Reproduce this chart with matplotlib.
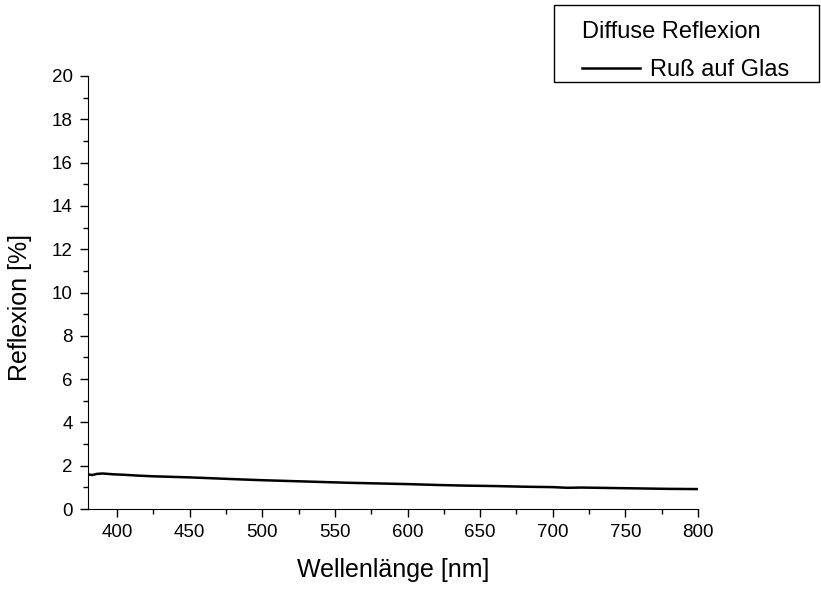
import numpy as np
import matplotlib.pyplot as plt
from matplotlib.ticker import MultipleLocator
from matplotlib.patches import Rectangle

plt.rcParams['font.family'] = ['Liberation Sans', 'DejaVu Sans']

# Diffuse Reflexion, Ruß auf Glas
wavelength = [380, 383, 386, 390, 394, 398, 405, 415, 425, 440, 450, 465, 480, 500,
              520, 540, 560, 580, 600, 620, 640, 660, 680, 700, 710, 720, 740, 760, 780, 800]
reflexion = [1.60, 1.57, 1.62, 1.64, 1.62, 1.60, 1.58, 1.54, 1.51, 1.48, 1.46, 1.42, 1.38, 1.33,
             1.29, 1.25, 1.21, 1.18, 1.15, 1.11, 1.08, 1.06, 1.03, 1.01, 0.98, 0.99, 0.97, 0.95, 0.93, 0.92]

fig = plt.figure(figsize=(8.21, 5.91), dpi=100)
ax = fig.add_axes([88/821, 1 - 509/591, (698 - 88)/821, (509 - 76)/591])

line, = ax.plot(wavelength, reflexion, color='black', lw=1.8)

ax.set_xlim(380, 800)
ax.set_ylim(0, 20)
ax.xaxis.set_major_locator(MultipleLocator(50))
ax.xaxis.set_minor_locator(MultipleLocator(25))
ax.yaxis.set_major_locator(MultipleLocator(2))
ax.yaxis.set_minor_locator(MultipleLocator(1))
ax.tick_params(which='major', direction='out', length=6, width=1, labelsize=13.5, pad=5)
ax.tick_params(which='minor', direction='out', length=3.5, width=1)
ax.spines['top'].set_visible(False)
ax.spines['right'].set_visible(False)

ax.set_xlabel('Wellenlänge [nm]', fontsize=18, labelpad=12)
ax.set_ylabel('Reflexion [%]', fontsize=18)
ax.yaxis.set_label_coords(-0.092, 0.466)

# legend frame and content
fig.patches.append(Rectangle((554/821, 1 - 82/591), (819 - 554)/821, (82 - 5)/591,
                             transform=fig.transFigure, fill=False, edgecolor='black', lw=1))
leg = fig.legend([line], ['Ruß auf Glas'], title='Diffuse Reflexion',
                 loc='upper left', bbox_to_anchor=(563/821, 1 - 2/591),
                 fontsize=17, title_fontsize=17, frameon=False,
                 handlelength=2.45, handletextpad=0.42, borderpad=0.3, labelspacing=0.7)
leg._legend_box.align = 'left'

fig.savefig('out.png', dpi=100)
